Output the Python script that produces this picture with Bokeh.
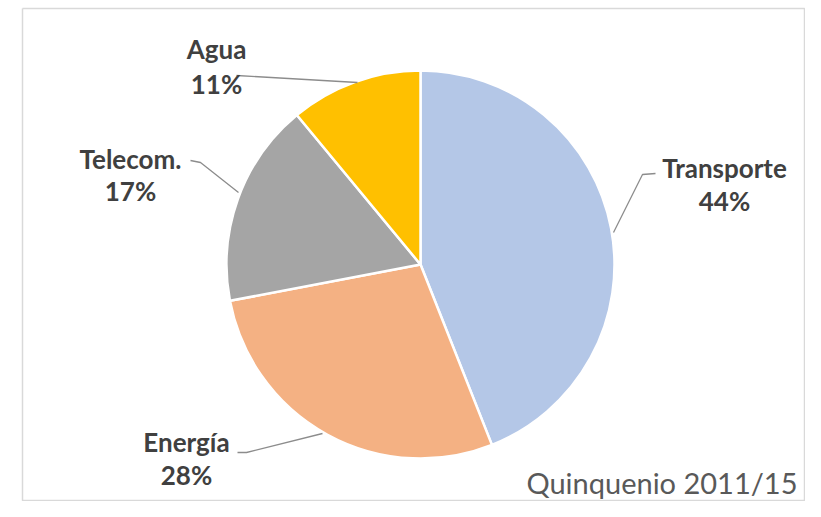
import math
from bokeh.plotting import figure
from bokeh.models import Range1d, ColumnDataSource
from bokeh.core.properties import value
from bokeh.embed import file_html
from bokeh.resources import INLINE

# ---- data ----
categories = ["Transporte", "Energía", "Telecom.", "Agua"]
shares = [44, 28, 17, 11]
pct_labels = ["44%", "28%", "17%", "11%"]
colors = ["#B4C7E7", "#F4B183", "#A5A5A5", "#FFC000"]
subtitle = "Quinquenio 2011/15"

# ---- layout (image pixel coordinates, y measured from the top) ----
W, H = 805, 501
IMG_H = 517


def fy(y):
    return IMG_H - y


cx, cy, r = 420, 264, 194
label_pos = {  # (x of centre, y of name line, y of pct line)
    "Transporte": (724, 167, 200),
    "Energía": (186, 441, 474),
    "Telecom.": (130, 158, 190),
    "Agua": (216, 48, 83),
}
leaders = {
    "Transporte": [(655, 173), (642, 174), (613, 232)],
    "Energía": [(237, 452), (246, 452), (322, 433)],
    "Telecom.": [(190, 160), (200, 162), (238, 192)],
    "Agua": [(236, 75), (357, 82)],
}

p = figure(width=W, height=H, output_backend="svg", toolbar_location=None,
           x_range=Range1d(0, W), y_range=Range1d(fy(H), fy(0)),
           min_border=0)
p.axis.visible = False
p.grid.visible = False
p.outline_line_color = None
p.background_fill_color = "white"
p.border_fill_color = "white"

# frame
p.line(x=[22, 804, 804, 22, 22], y=[fy(8), fy(8), fy(500), fy(500), fy(8)],
       line_color="#D9D9D9", line_width=1.5)

# wedges
total = sum(shares)
starts, ends = [], []
a = math.pi / 2
for s in shares:
    e = a - 2 * math.pi * s / total
    starts.append(e)
    ends.append(a)
    a = e
src = ColumnDataSource(dict(cat=categories, start=starts, end=ends, color=colors))
p.wedge(x=cx, y=fy(cy), radius=r, start_angle="start", end_angle="end",
        fill_color="color", line_color="white", line_width=2.5, source=src)

# leader lines
for cat in categories:
    pts = leaders[cat]
    p.line(x=[q[0] for q in pts], y=[fy(q[1]) for q in pts],
           line_color="#8C8C8C", line_width=1.3)

# labels
lx = [label_pos[c][0] for c in categories]
p.text(x=lx, y=[fy(label_pos[c][1]) for c in categories], text=categories,
       text_align="center", text_baseline="middle", text_font=value("Lato"),
       text_font_style="bold", text_font_size="26px", text_color="#404040")
p.text(x=lx, y=[fy(label_pos[c][2]) for c in categories], text=pct_labels,
       text_align="center", text_baseline="middle", text_font=value("Lato"),
       text_font_style="bold", text_font_size="26px", text_color="#404040")

p.text(x=[797], y=[fy(482)], text=[subtitle], text_align="right",
       text_baseline="middle", text_font=value("Lato"),
       text_font_size="29px", text_color="#595959")

open("out.html", "w").write(file_html(p, INLINE))
